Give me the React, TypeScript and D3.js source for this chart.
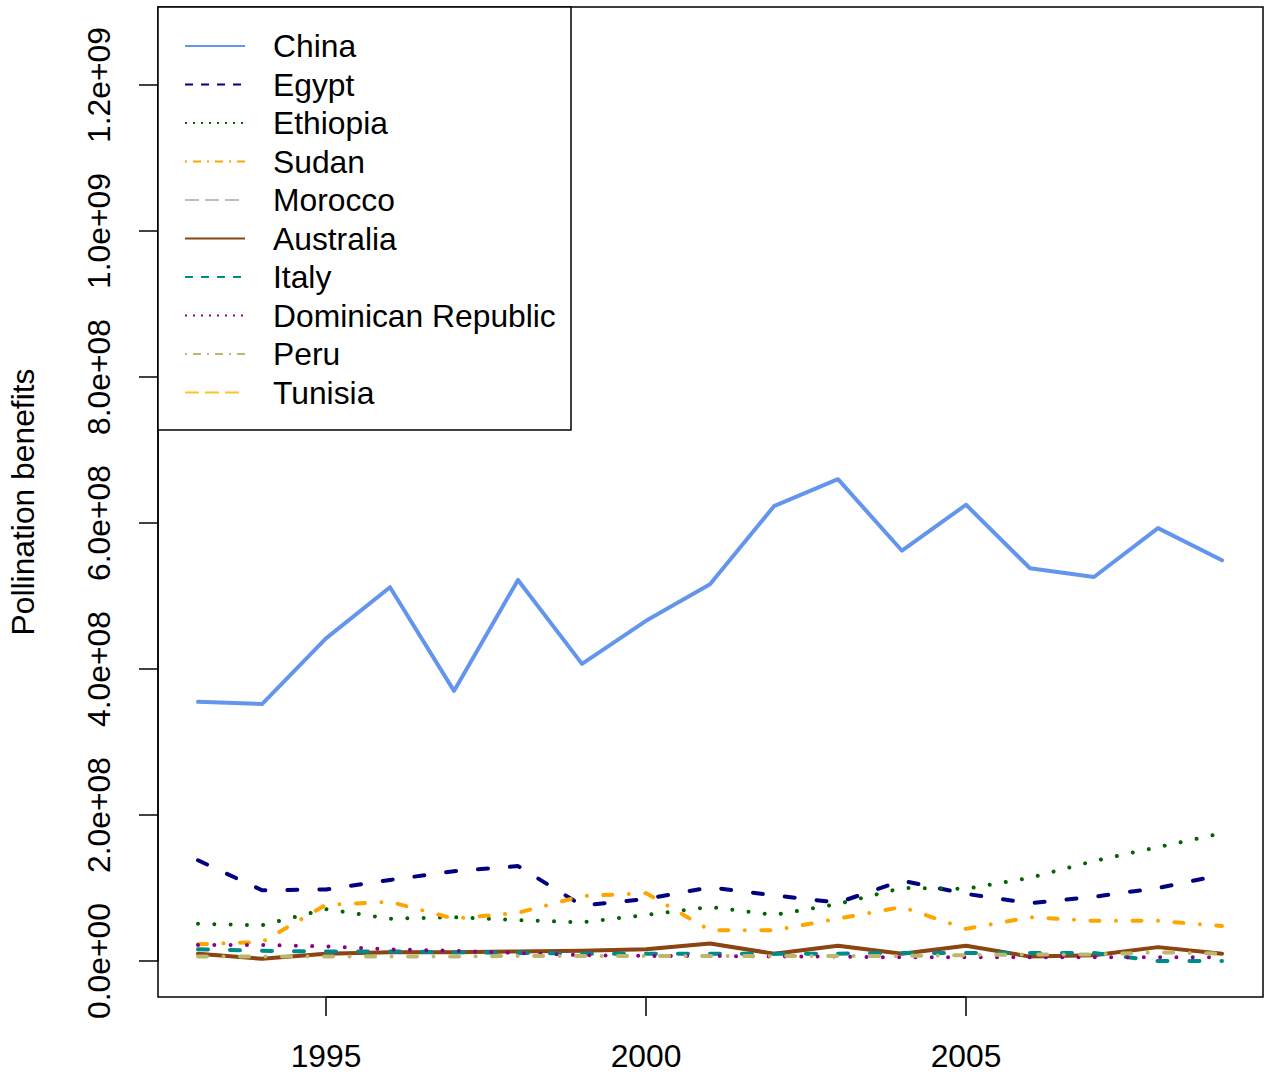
import React from "react";
import * as d3 from "d3";

const years = d3.range(1993, 2010);

const china = [3.55e8, 3.52e8, 4.42e8, 5.12e8, 3.70e8, 5.22e8, 4.07e8, 4.66e8, 5.16e8, 6.23e8, 6.60e8, 5.62e8, 6.25e8, 5.38e8, 5.26e8, 5.93e8, 5.49e8];
const egypt = [1.38e8, 0.97e8, 0.98e8, 1.11e8, 1.23e8, 1.30e8, 0.76e8, 0.85e8, 1.01e8, 0.90e8, 0.80e8, 1.10e8, 0.92e8, 0.79e8, 0.88e8, 1.00e8, 1.18e8];
const ethiopia = [0.51e8, 0.49e8, 0.71e8, 0.58e8, 0.60e8, 0.56e8, 0.53e8, 0.63e8, 0.74e8, 0.63e8, 0.78e8, 1.00e8, 0.99e8, 1.14e8, 1.37e8, 1.56e8, 1.75e8];
const sudan = [0.23e8, 0.26e8, 0.77e8, 0.81e8, 0.58e8, 0.66e8, 0.89e8, 0.93e8, 0.42e8, 0.42e8, 0.58e8, 0.74e8, 0.44e8, 0.60e8, 0.55e8, 0.55e8, 0.48e8];
const morocco = [0.10e8, 0.03e8, 0.10e8, 0.12e8, 0.12e8, 0.13e8, 0.14e8, 0.16e8, 0.24e8, 0.10e8, 0.21e8, 0.10e8, 0.21e8, 0.06e8, 0.08e8, 0.19e8, 0.10e8];
const australia = [0.10e8, 0.03e8, 0.10e8, 0.12e8, 0.12e8, 0.13e8, 0.14e8, 0.16e8, 0.24e8, 0.10e8, 0.21e8, 0.10e8, 0.21e8, 0.06e8, 0.08e8, 0.19e8, 0.10e8];
const italy = [0.16e8, 0.14e8, 0.13e8, 0.13e8, 0.12e8, 0.11e8, 0.10e8, 0.10e8, 0.10e8, 0.10e8, 0.10e8, 0.11e8, 0.11e8, 0.11e8, 0.11e8, 0.00e8, 0.00e8];
const dominican = [0.22e8, 0.22e8, 0.20e8, 0.16e8, 0.14e8, 0.11e8, 0.08e8, 0.07e8, 0.07e8, 0.06e8, 0.06e8, 0.05e8, 0.05e8, 0.05e8, 0.05e8, 0.05e8, 0.05e8];
const peru = [0.06e8, 0.06e8, 0.06e8, 0.06e8, 0.06e8, 0.07e8, 0.07e8, 0.07e8, 0.07e8, 0.07e8, 0.07e8, 0.07e8, 0.08e8, 0.09e8, 0.09e8, 0.12e8, 0.10e8];
const tunisia = [0.10e8, 0.03e8, 0.10e8, 0.12e8, 0.12e8, 0.13e8, 0.14e8, 0.16e8, 0.24e8, 0.10e8, 0.21e8, 0.10e8, 0.21e8, 0.06e8, 0.08e8, 0.19e8, 0.10e8];

const countries = ["China", "Egypt", "Ethiopia", "Sudan", "Morocco", "Australia", "Italy", "Dominican Republic", "Peru", "Tunisia"];
const seriesValues = [china, egypt, ethiopia, sudan, morocco, australia, italy, dominican, peru, tunisia];
const colors = ["#6495ED", "#000080", "#006400", "#FFA500", "#BEBEBE", "#8B4513", "#008B8B", "#8B008B", "#BDB76B", "#FFC125"];
const ltys = ["solid", "dashed", "dotted", "dotdash", "longdash", "solid", "dashed", "dotted", "dotdash", "longdash"];
// draw order (series hidden under Australia are drawn first)
const drawOrder = [4, 9, 0, 1, 2, 3, 5, 6, 7, 8];

const xTicks = [1995, 2000, 2005];
const yTicks = [0, 2e8, 4e8, 6e8, 8e8, 1e9, 1.2e9];
const yTickLabels = ["0.0e+00", "2.0e+08", "4.0e+08", "6.0e+08", "8.0e+08", "1.0e+09", "1.2e+09"];

const plotDash: Record<string, string | undefined> = {
  solid: undefined,
  dashed: "10 22",
  dotted: "0.01 16.3",
  dotdash: "9 16.5 0.01 16.5",
  longdash: "24 16",
};
const legendDash: Record<string, string | undefined> = {
  solid: undefined,
  dashed: "8 8",
  dotted: "2 6",
  dotdash: "2 6 8 6",
  longdash: "14 6",
};

export default function App() {
  const W = 1271, H = 1075;
  const L = 158, R = 1263, T = 7, B = 997;
  const x = d3.scaleLinear().domain([1993, 2009]).range([198, 1222]);
  const y = d3.scaleLinear().domain([0, 1.2e9]).range([961, 85]);
  const line = d3.line<number>().x((_, i) => x(years[i])).y((d) => y(d));
  const font = "Liberation Sans, Arial, Helvetica, sans-serif";
  const fs = 31.8;

  return (
    <>
      <style>{`body{margin:0}`}</style>
      <svg width={W} height={H} style={{ display: "block", background: "#fff" }} fontFamily={font}>
        <defs>
          <clipPath id="plotclip">
            <rect x={L} y={T} width={R - L} height={B - T} />
          </clipPath>
        </defs>
        <g clipPath="url(#plotclip)">
          {drawOrder.map((k) => (
            <path
              key={countries[k]}
              d={line(seriesValues[k]) || ""}
              fill="none"
              stroke={colors[k]}
              strokeWidth={k === 4 || k === 9 ? 3 : 4}
              strokeLinecap="round"
              strokeLinejoin="round"
              strokeDasharray={plotDash[ltys[k]]}
            />
          ))}
        </g>
        <rect x={L} y={T} width={R - L} height={B - T} fill="none" stroke="#000" strokeWidth={1.5} />
        <line x1={x(xTicks[0])} x2={x(xTicks[xTicks.length - 1])} y1={B} y2={B} stroke="#000" strokeWidth={1.5} />
        {xTicks.map((t) => (
          <g key={t}>
            <line x1={x(t)} x2={x(t)} y1={B} y2={B + 19} stroke="#000" strokeWidth={1.5} />
            <text x={x(t)} y={1067} textAnchor="middle" fontSize={fs}>{t}</text>
          </g>
        ))}
        <line x1={L} x2={L} y1={y(yTicks[0])} y2={y(yTicks[yTicks.length - 1])} stroke="#000" strokeWidth={1.5} />
        {yTicks.map((t, i) => (
          <g key={t}>
            <line x1={L} x2={L - 19} y1={y(t)} y2={y(t)} stroke="#000" strokeWidth={1.5} />
            <text transform={`translate(110,${y(t)}) rotate(-90)`} textAnchor="middle" fontSize={fs}>
              {yTickLabels[i]}
            </text>
          </g>
        ))}
        <text transform={`translate(34,${(T + B) / 2}) rotate(-90)`} textAnchor="middle" fontSize={fs}>
          Pollination benefits
        </text>
        <rect x={L} y={T} width={571 - L} height={430 - T} fill="#fff" stroke="#000" strokeWidth={1.5} />
        {countries.map((c, i) => {
          const yy = 46 + i * 38.5;
          return (
            <g key={c}>
              <line x1={185} x2={245} y1={yy} y2={yy} stroke={colors[i]} strokeWidth={2} strokeDasharray={legendDash[ltys[i]]} />
              <text x={273} y={yy + 11} fontSize={fs}>{c}</text>
            </g>
          );
        })}
      </svg>
    </>
  );
}
